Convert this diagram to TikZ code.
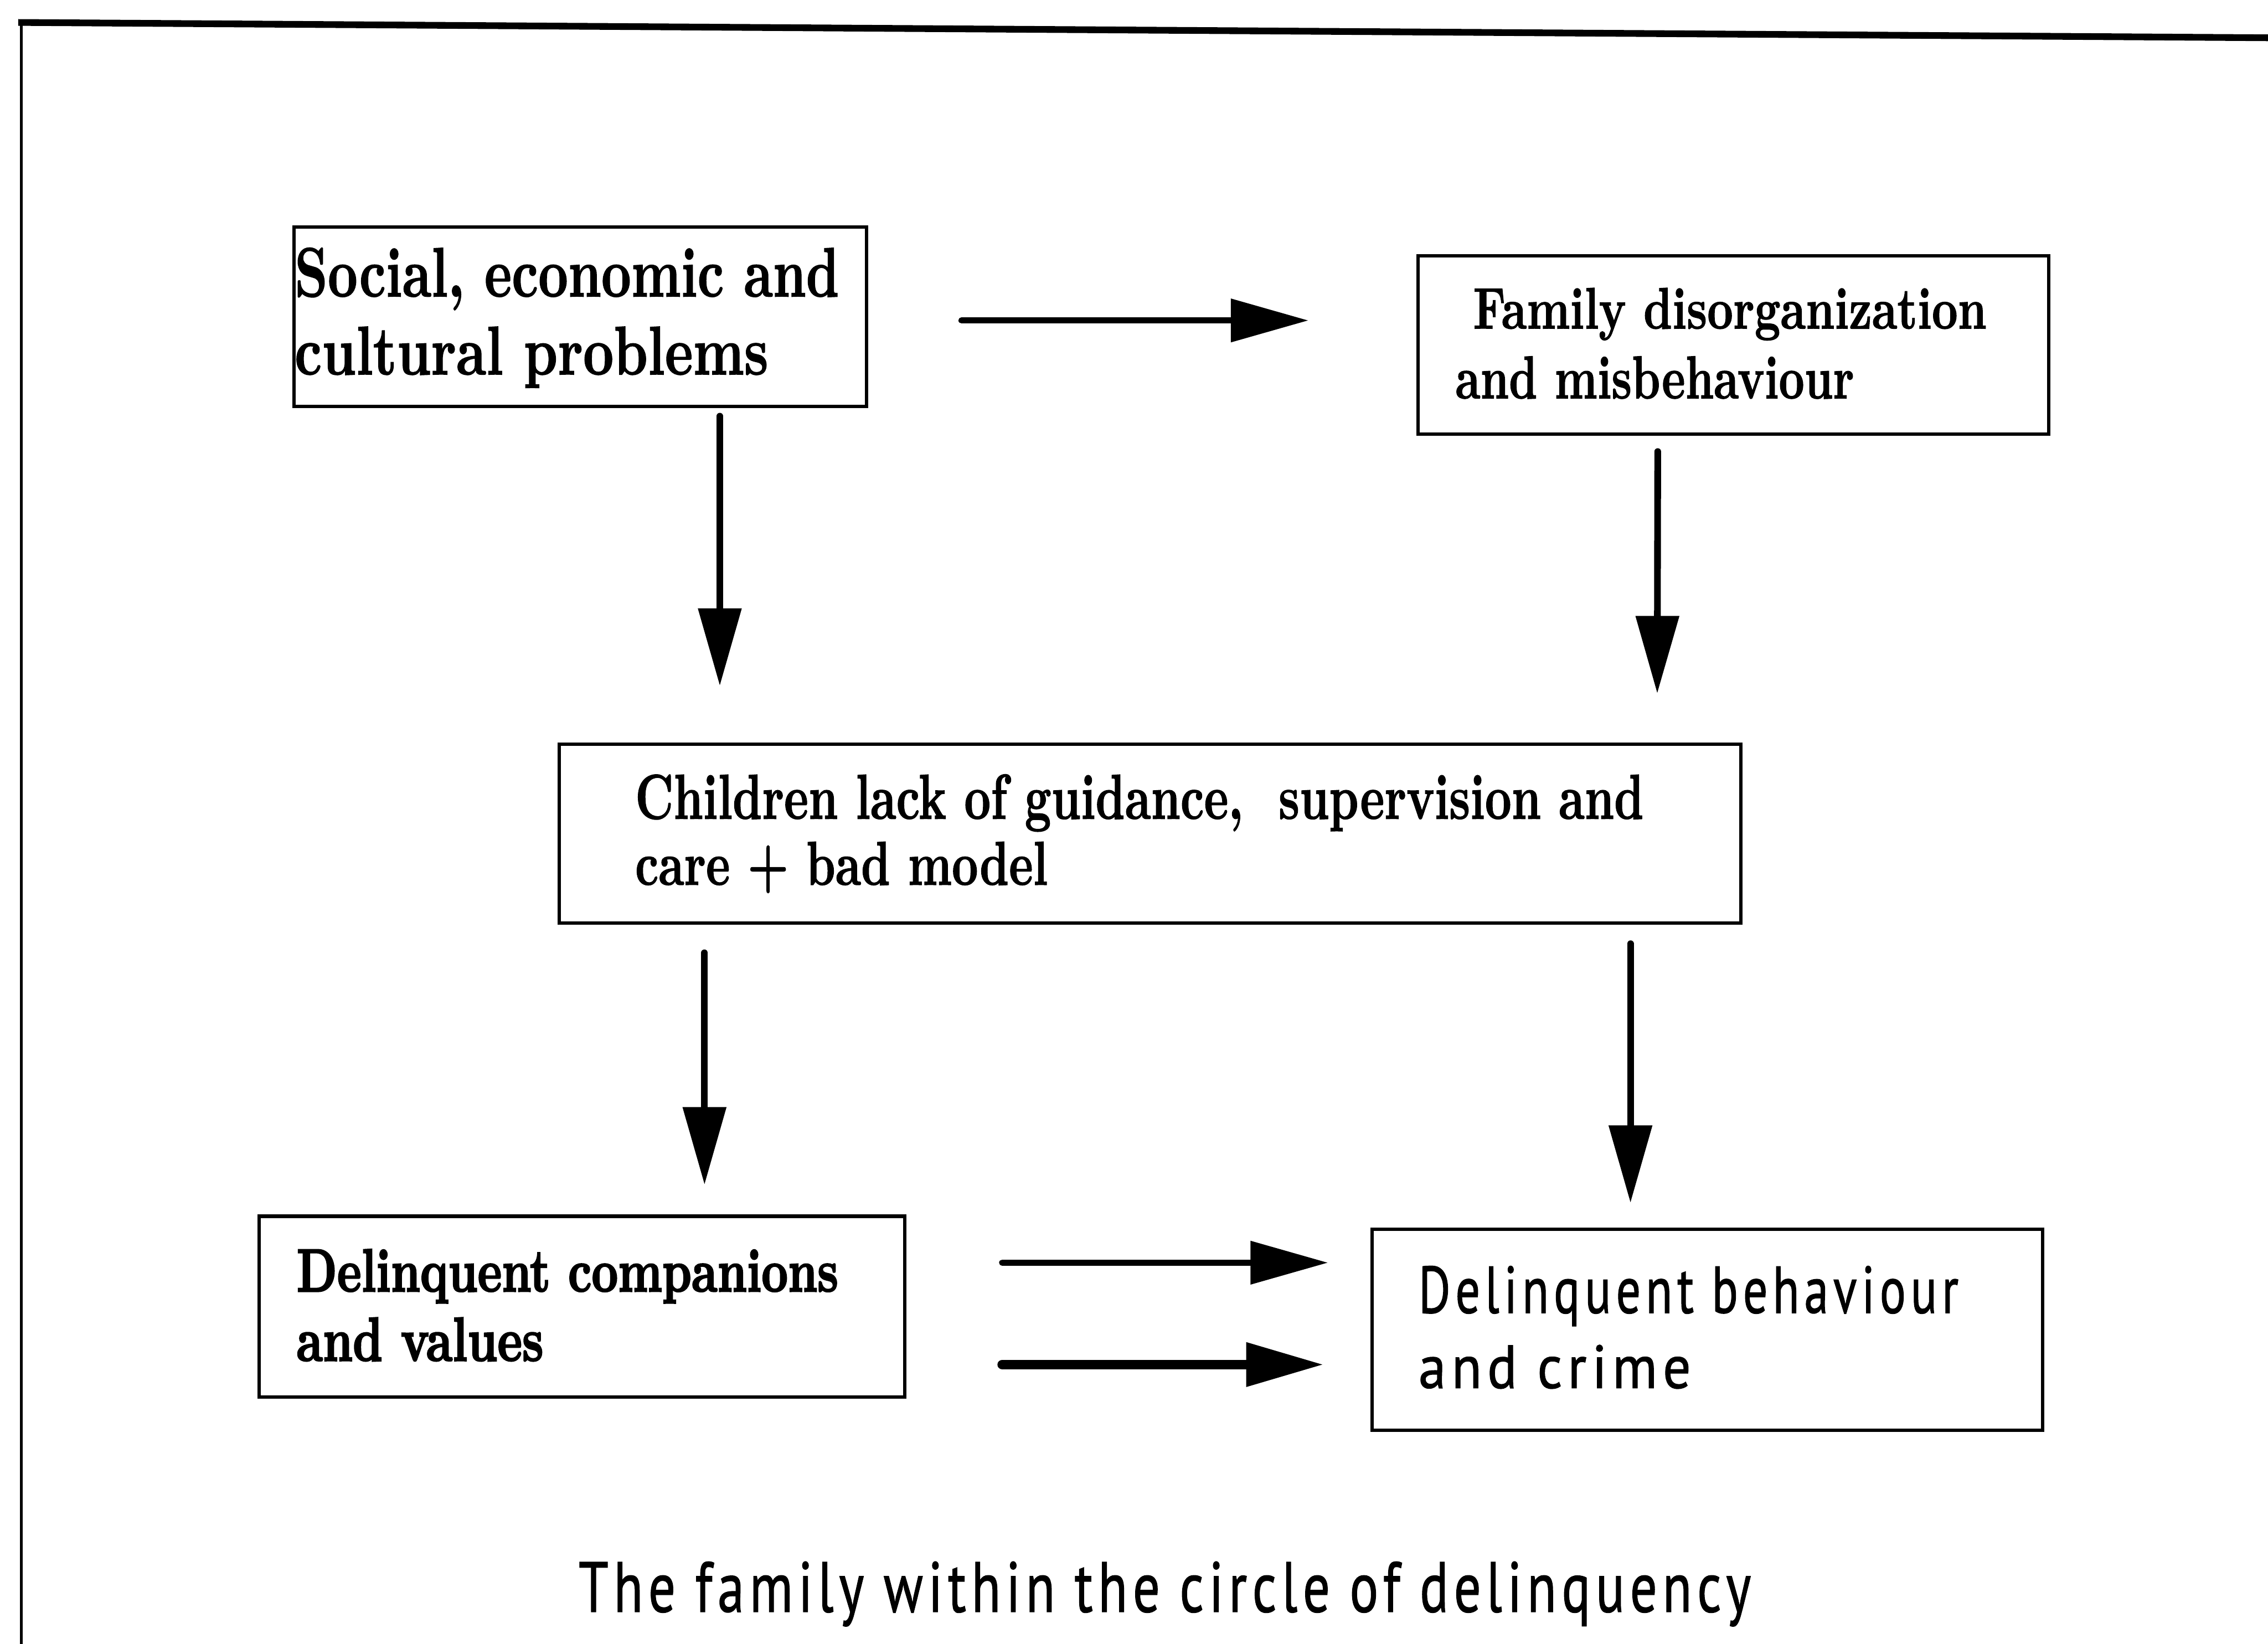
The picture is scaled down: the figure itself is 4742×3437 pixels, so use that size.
\documentclass[tikz,border=0pt]{standalone}
\usepackage{graphicx}
\usepackage{fontspec}
\newfontfamily\plotsans[LetterSpace=10,FakeBold=1.2]{PT Sans}
\newfontfamily\serifmid[FakeBold=1.2]{lmroman10-bold.otf}
\newfontfamily\serifheavy[FakeBold=2.5]{lmroman10-bold.otf}
\usetikzlibrary{arrows.meta,calc}
\newcommand{\fitln}[3]{\resizebox{#1cm}{#2cm}{#3}}
\tikzset{
  box/.style={draw, line width=0.07cm, inner sep=0pt, outer sep=0pt},
  txt/.style={anchor=base west, inner sep=0pt, outer sep=0pt},
  arr/.style={-{Triangle[length=1.62cm,width=0.88cm]}, line width=0.14cm, line cap=round},
  framel/.style={line width=#1, line cap=rect},
}
\begin{document}
\begin{tikzpicture}[x=0.01cm, y=-0.01cm]
\useasboundingbox (0,0) rectangle (4742,3437);
% page frame (top and left edges)
\draw[framel=0.14cm] (45,47) -- (4742,79);
\draw[framel=0.06cm] (45,47) -- (45,3437);

% boxes
\node[box, minimum width=11.96cm, minimum height=3.75cm] (social) at (1213,662.5) {};
\node[box, minimum width=13.18cm, minimum height=3.72cm] (family) at (3624,721) {};
\node[box, minimum width=24.69cm, minimum height=3.74cm] (children) at (2404.5,1743) {};
\node[box, minimum width=13.49cm, minimum height=3.78cm] (companions) at (1216.5,2732) {};
\node[box, minimum width=14.01cm, minimum height=4.20cm] (crime) at (3569.5,2780) {};

% texts
\node[txt] (social1) at (616,620) {\fitln{11.38}{1.02}{\serifmid Social, economic and}};
\node[txt] (social2) at (616,783) {\fitln{9.90}{1.00}{\serifmid cultural problems}};
\node[txt] (family1) at (3080,687) {\fitln{10.73}{0.85}{\serifmid Family disorganization}};
\node[txt] (family2) at (3043,833) {\fitln{8.33}{0.88}{\serifmid and misbehaviour}};
\node[txt] (children1) at (1328,1712) {\fitln{21.07}{0.93}{\serifmid Children lack of guidance,~ supervision and}};
\node[txt] (children2) at (1328,1850) {\fitln{8.62}{0.90}{\serifmid care + bad model}};
\node[txt] (companions1) at (620,2700) {\fitln{11.32}{0.88}{\serifheavy Delinquent companions}};
\node[txt] (companions2) at (620,2845) {\fitln{5.16}{0.90}{\serifheavy and values}};
\node[txt] (crime1) at (2966,2745) {\fitln{11.28}{0.98}{\plotsans Delinquent behaviour}};
\node[txt] (crime2) at (2966,2902) {\fitln{5.69}{0.90}{\plotsans and crime}};
\node[txt] (caption) at (1210,3370) {\fitln{24.49}{1.05}{\plotsans The family within the circle of delinquency}};

% connectors
\draw[arr, line width=0.13cm] ($(social.east)+(199,7.5)$) -- ($(family.west)+(-229,-51)$);
\draw[arr] ($(social.south)+(292,20)$) -- ($(children.north)+(-899.5,-122)$);
\draw[arr] ($(family.south)+(-158,37)$) -- ($(children.north)+(1060.5,-106)$);
\draw[arr] ($(children.south)+(-931.5,62)$) -- ($(companions.north)+(256.5,-66)$);
\draw[arr] ($(children.south)+(1004.5,43)$) -- ($(crime.north)+(-160.5,-55)$);
\draw[arr, line width=0.13cm] ($(companions.east)+(204,-92)$) -- ($(crime.west)+(-92,-140)$);
\draw[arr, line width=0.20cm] ($(companions.east)+(204,121)$) -- ($(crime.west)+(-101,73)$);
\end{tikzpicture}
\end{document}
